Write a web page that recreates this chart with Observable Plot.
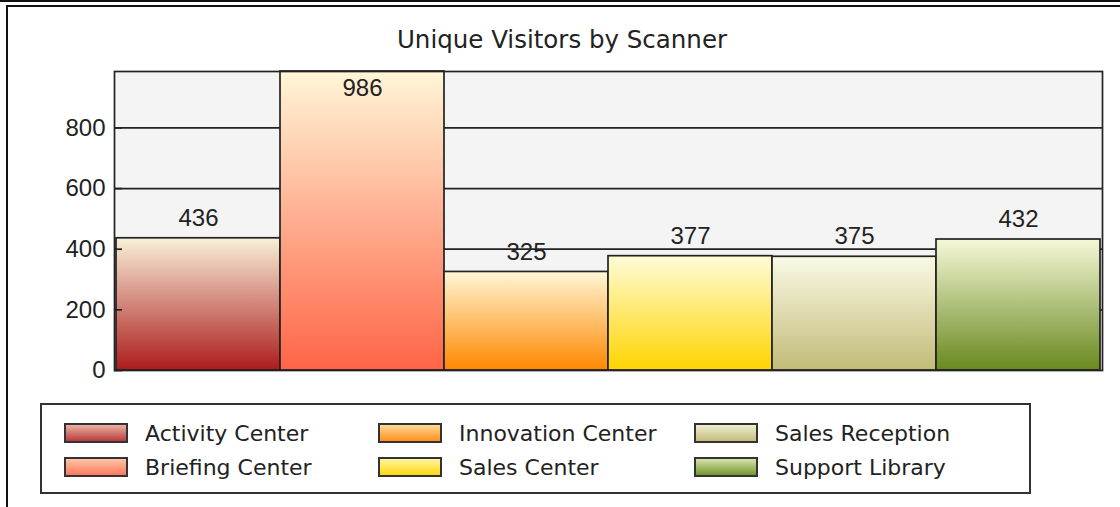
<!DOCTYPE html>
<html>
<head>
<meta charset="utf-8">
<script src="https://cdn.jsdelivr.net/npm/d3@7"></script>
<script src="https://cdn.jsdelivr.net/npm/@observablehq/plot@0.6"></script>
<style>
  html, body { margin: 0; padding: 0; background: #fff; }
  body { position: relative; width: 1120px; height: 507px; overflow: hidden; }
  #topline { position: absolute; left: 0; top: 0; width: 1120px; height: 2px; background: #111; }
  #outer { position: absolute; left: 6px; top: 5px; width: 1300px; height: 700px; border: 2px solid #111; box-sizing: border-box; }
  #title { position: absolute; left: 0; top: 26px; width: 1124px; text-align: center; font-family: "DejaVu Sans", sans-serif; font-size: 24.5px; line-height: 28px; color: #222; }
  #chart { position: absolute; left: 0; top: 60px; }
  #legend { position: absolute; left: 40px; top: 403px; width: 991px; height: 91px; box-sizing: border-box; border: 2px solid #333; padding: 18px 0 0 22px;
            display: grid; grid-template-columns: 314px 316px auto; grid-template-rows: 34px 34px; grid-auto-flow: column; }
  .item { display: flex; align-items: center; height: 20px; font-family: "DejaVu Sans", sans-serif; font-size: 22px; color: #222; white-space: nowrap; }
  .sw { width: 64px; height: 20px; box-sizing: border-box; border: 2px solid #333; margin-right: 17px; flex: none; }
</style>
</head>
<body>
<div id="topline"></div>
<div id="outer"></div>
<div id="title"></div>
<div id="chart"></div>
<div id="legend"></div>
<script>
const title = "Unique Visitors by Scanner";
const categories = ["Activity Center", "Briefing Center", "Innovation Center", "Sales Center", "Sales Reception", "Support Library"];
const values = [436, 986, 325, 377, 375, 432];
const yTicks = [0, 200, 400, 600, 800];
const yMax = 986;
const topColors = ["#f8f0d8", "#fff6d8", "#fff6d6", "#fffcd8", "#fafae6", "#f6f8d8"];
const bottomColors = ["#ac1c1c", "#ff6446", "#ff8800", "#ffd400", "#c2bb78", "#68891f"];
const swatchTop = ["#eab0a4", "#ffc4a8", "#ffd898", "#fff4a0", "#eeeed0", "#d8e2ac"];
const swatchBottom = ["#b83c3c", "#ff7a5c", "#ff9018", "#ffd810", "#c4bc7c", "#74962e"];

document.getElementById("title").textContent = title;

const data = categories.map((c, i) => ({cat: c, value: values[i]}));

function gradientDefs() {
  const defs = d3.create("svg:defs");
  categories.forEach((c, i) => {
    const g = defs.append("linearGradient").attr("id", "grad" + i)
      .attr("x1", 0).attr("y1", 0).attr("x2", 0).attr("y2", 1);
    g.append("stop").attr("offset", "0%").attr("stop-color", topColors[i]);
    g.append("stop").attr("offset", "100%").attr("stop-color", bottomColors[i]);
  });
  return defs.node();
}

const W = 1120, ML = 114, MR = 18;
const numFont = "'Liberation Sans', Arial, sans-serif";

const chart = Plot.plot({
  width: W,
  height: 320,
  marginTop: 11,
  marginBottom: 10,
  marginLeft: ML,
  marginRight: MR,
  style: {fontFamily: numFont, fontSize: "24px", color: "#222", background: "transparent", overflow: "visible"},
  x: {domain: categories, padding: 0, axis: null},
  y: {domain: [0, yMax], axis: null},
  color: {domain: categories, range: categories.map((c, i) => `url(#grad${i})`)},
  marks: [
    gradientDefs,
    Plot.frame({fill: "#f4f4f4", stroke: null}),
    Plot.ruleY(yTicks.filter(v => v > 0), {stroke: "#222", strokeWidth: 1.7}),
    Plot.barY(data, {x: "cat", y: "value", fill: "cat", stroke: "#222", strokeWidth: 1.7}),
    Plot.ruleY(yTicks, {stroke: "#222", strokeWidth: 1.7, insetRight: W - ML - MR - 8}),
    Plot.frame({stroke: "#222", strokeWidth: 1.7}),
    Plot.axisY(yTicks, {tickSize: 0, tickPadding: 9, fontSize: 24, fill: "#222", label: null}),
    Plot.text(data.filter(d => d.value / yMax <= 0.93), {x: "cat", y: "value", text: d => String(d.value), dy: -20, fontSize: 24, fill: "#222"}),
    Plot.text(data.filter(d => d.value / yMax > 0.93), {x: "cat", y: "value", text: d => String(d.value), dy: 17, fontSize: 24, fill: "#222"})
  ]
});
document.getElementById("chart").appendChild(chart);

const legend = document.getElementById("legend");
categories.forEach((c, i) => {
  const item = document.createElement("div");
  item.className = "item";
  const sw = document.createElement("div");
  sw.className = "sw";
  sw.style.background = `linear-gradient(to bottom, ${swatchTop[i]}, ${swatchBottom[i]})`;
  const label = document.createElement("span");
  label.textContent = c;
  item.appendChild(sw);
  item.appendChild(label);
  legend.appendChild(item);
});
</script>
</body>
</html>
